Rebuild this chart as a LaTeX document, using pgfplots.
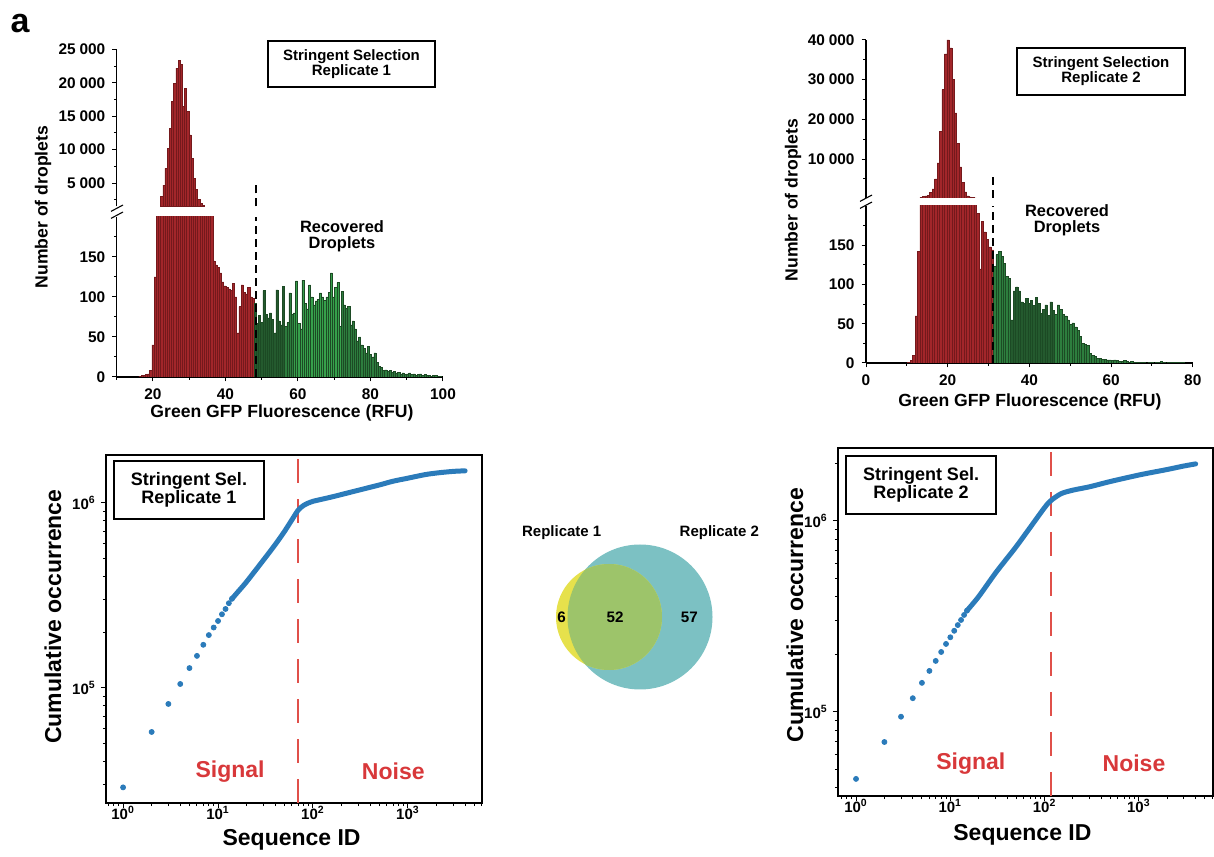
\documentclass[border=0pt]{standalone}
\usepackage{fontspec}
\setmainfont{Liberation Sans}
\usepackage{pgfplots}
\usepackage{pgfplotstable}
\pgfplotsset{compat=1.18}

\definecolor{redF}{HTML}{A2262A}
\definecolor{redD}{HTML}{74191C}
\definecolor{grnF}{HTML}{2D7D3E}
\definecolor{grnDk}{HTML}{245A2E}
\definecolor{grnBr}{HTML}{36A04B}
\definecolor{grnE}{HTML}{1C4A24}
\definecolor{cblue}{HTML}{2B7BBA}
\definecolor{cred}{HTML}{E0504A}
\definecolor{sred}{HTML}{D8383A}
\definecolor{vyel}{HTML}{E6E14C}
\definecolor{vteal}{HTML}{7CC1C3}
\definecolor{vgrn}{HTML}{9DC46A}

\newcommand{\fs}[1]{\fontsize{#1}{#1}\selectfont\bfseries}
\newcommand{\ks}{\hspace{0.25em}}
\newcommand{\tp}[1]{10\textsuperscript{#1}}

\pgfplotstableread{
x y
16.4 1
17.0 2
17.6 2
18.2 3
18.8 4
19.4 8
20.0 40
20.6 125
21.2 600
21.8 1300
22.4 2950
23.0 4700
23.6 7200
24.2 10200
24.8 13200
25.4 17200
26.0 19900
26.6 22200
27.2 23400
27.8 22800
28.4 16500
29.0 19200
29.6 15700
30.2 12200
30.8 8700
31.4 5700
32.0 4000
32.6 2600
33.2 1900
33.8 1600
34.4 1000
35.0 600
35.6 350
36.2 220
36.8 145
37.4 140
38.0 137
38.6 130
39.2 119
39.8 114
40.4 112
41.0 110
41.6 108
42.2 117
42.8 100
43.4 55
44.0 88
44.6 115
45.2 106
45.8 104
46.4 112
47.0 100
47.6 98
}\rAred

\pgfplotstableread{
x y
48.2 92
48.8 67
49.4 77
50.0 68
50.6 108
51.2 78
51.8 74
52.4 80
53.0 72
53.6 55
54.2 109
54.8 70
55.4 65
56.0 113
56.6 63
57.2 68
57.8 105
58.4 78
59.0 80
59.6 120
60.2 67
60.8 60
61.4 121
62.0 92
62.6 85
63.2 115
63.8 100
64.4 90
65.0 95
65.6 97
66.2 105
66.8 100
67.4 96
68.0 100
68.6 106
69.2 130
69.8 100
70.4 112
71.0 118
71.6 63
72.2 107
72.8 90
73.4 86
74.0 88
74.6 65
75.2 70
75.8 60
76.4 45
77.0 50
77.6 40
78.2 36
78.8 30
79.4 38
80.0 28
80.6 25
81.2 30
81.8 18
82.4 13
83.0 12
83.6 8
84.2 9
84.8 7
85.4 8
86.0 6
86.6 7
87.2 5
87.8 6
88.4 4
89.0 5
89.6 3
90.2 4
90.8 5
91.4 3
92.0 4
92.6 2
93.2 3
93.8 4
94.4 2
95.0 3
95.6 2
96.2 2
96.8 1
97.4 2
98.0 2
98.6 1
99.2 1
}\rAgreen

\pgfplotstableread{
x y
10.5 1
11.1 3
11.7 10
12.3 60
12.9 142
13.5 300
14.1 500
14.7 700
15.3 900
15.9 1500
16.5 2500
17.1 5000
17.7 9000
18.3 17000
18.9 27500
19.5 36500
20.1 40000
20.7 38000
21.3 30000
21.9 21600
22.5 14000
23.1 8000
23.7 4200
24.3 1700
24.9 700
25.5 450
26.1 300
26.7 230
27.3 191
27.9 120
28.5 180
29.1 167
29.7 157
30.3 148
30.9 144
}\rBred

\pgfplotstableread{
x y
31.5 123
32.1 138
32.7 142
33.3 136
33.9 127
34.5 110
35.1 108
35.7 55
36.3 92
36.9 97
37.5 92
38.1 78
38.7 76
39.3 82
39.9 76
40.5 80
41.1 73
41.7 84
42.3 76
42.9 63
43.5 68
44.1 74
44.7 61
45.3 78
45.9 67
46.5 62
47.1 74
47.7 68
48.3 62
48.9 60
49.5 55
50.1 49
50.7 51
51.3 46
51.9 42
52.5 34
53.1 25
53.7 24
54.3 22
54.9 12
55.5 10
56.1 8
56.7 6
57.3 6
57.9 5
58.5 5
59.1 4
59.7 4
60.3 3
60.9 4
61.5 3
62.1 2
62.7 2
63.3 3
63.9 2
64.5 1
65.1 2
65.7 1
66.3 1
66.9 1
67.5 1
68.1 1
69.3 1
69.9 1
71.1 1
71.7 1
72.3 2
72.9 1
74.1 1
74.7 1
75.3 1
75.9 1
76.5 1
77.1 1
77.7 1
}\rBgreen

\pgfplotstableread{
x y
1 29000
2 57800
3 81900
4 105000
5 128000
6 149000
7 171000
8 193000
9 212000
10 230000
11 250000
12 267000
13 287000
14 303000
}\cumA

\pgfplotstableread{
x y
14 303000
17 340000
20 375000
30 490000
40 595000
50 700000
60 810000
70 915000
80 970000
90 1000000
100 1020000
150 1070000
200 1110000
300 1170000
500 1250000
700 1310000
1000 1360000
1500 1420000
2000 1450000
3000 1480000
4000 1490000
}\cumAline

\pgfplotstableread{
x y
1 44600
2 69600
3 94400
4 118000
5 142000
6 164000
7 185000
8 206000
9 227000
10 246000
11 266000
12 285000
13 303000
14 322000
15 339000
}\cumB

\pgfplotstableread{
x y
15 339000
20 402000
30 532000
40 638000
50 734000
70 922000
100 1175000
117 1280000
150 1390000
200 1450000
300 1510000
500 1610000
1000 1740000
1500 1810000
2000 1860000
3000 1940000
4000 1990000
}\cumBline

\pgfplotsset{
  histbase/.style={scale only axis, anchor=south west, tick align=outside,
    major tick length=2.2pt, minor tick length=1.4pt,
    tick style={black, line width=0.5pt},
    axis line style={black, line width=0.55pt},
    ticklabel style={font=\fs{7.7}},
    scaled y ticks=false, scaled x ticks=false,
    enlargelimits=false, clip=true},
  hbar/.style={ybar, bar width=0.6, bar shift=0pt, line width=0.25pt},
  cumbase/.style={scale only axis, anchor=south west,
    tick align=outside, xtick pos=bottom, ytick pos=left,
    axis line style={line width=0.8pt},
    major tick length=2.6pt, minor tick length=1.6pt,
    tick style={black, line width=0.5pt},
    ticklabel style={font=\fs{7.5}},
    xticklabel style={yshift=4.5pt},
    yticklabel style={xshift=1pt},
    xtick={1,10,100,1000}, xticklabels={\tp{0},\tp{1},\tp{2},\tp{3}},
    minor xtick={0.7,0.8,0.9,2,3,4,5,6,7,8,9,20,30,40,50,60,70,80,90,200,300,400,500,600,700,800,900,2000,3000,4000,5000,6000},
    ytick={100000,1000000}, yticklabels={\tp{5},\tp{6}},
    minor ytick={30000,40000,50000,60000,70000,80000,90000,200000,300000,400000,500000,600000,700000,800000,900000,2000000},
    clip=true},
}

\begin{document}
\begin{tikzpicture}
\path[use as bounding box] (0,0) rectangle (607pt,428pt);

\node[font=\fs{17}] at (10pt,416pt) {a};

% ---------- Replicate 1 histogram, lower part ----------
\begin{axis}[histbase, at={(58.375pt,239.5pt)}, width=163.125pt, height=80pt,
  xmin=10, xmax=100, ymin=0, ymax=200,
  axis x line*=bottom, axis y line*=left,
  xtick={20,40,60,80,100}, xticklabels={20,40,60,80,100},
  minor xtick={10,30,50,70,90},
  ytick={0,50,100,150}, yticklabels={0,50,100,150},
  minor ytick={25,75,125,175}]
\addplot[hbar, fill=redF, draw=redD] table {\rAred};
\addplot[hbar, fill=grnDk, draw=grnE, restrict x to domain=47:56.3] table {\rAgreen};
\addplot[hbar, fill=grnF, draw=grnE, restrict x to domain=56.5:58.5] table {\rAgreen};
\addplot[hbar, fill=grnBr, draw=grnE, restrict x to domain=58.9:71.9] table {\rAgreen};
\addplot[hbar, fill=grnF, draw=grnE, restrict x to domain=72:100] table {\rAgreen};
\addplot[black, line width=1pt, dash pattern=on 4pt off 2.5pt] coordinates {(48.3,0) (48.3,200)};
\end{axis}

% ---------- Replicate 1 histogram, upper part ----------
\begin{axis}[histbase, at={(58.375pt,324.8pt)}, width=163.125pt, height=78.5pt,
  xmin=10, xmax=100, ymin=1500, ymax=25000,
  axis x line=none, axis y line*=left,
  ytick={5000,10000,15000,20000,25000},
  yticklabels={5\ks000,10\ks000,15\ks000,20\ks000,25\ks000},
  minor ytick={2500,7500,12500,17500,22500}]
\addplot[hbar, fill=redF, draw=redD, restrict y to domain=1500:100000] table {\rAred};
\addplot[black, line width=1pt, dash pattern=on 4pt off 2.5pt] coordinates {(48.3,1500) (48.3,4850)};
\end{axis}

\draw[line width=0.55pt] (55.5pt,322.3pt) -- (61.5pt,325.5pt);
\draw[line width=0.55pt] (55.5pt,318.8pt) -- (61.5pt,322pt);

\node[font=\fs{8.8}, rotate=90] at (21.5pt,324.5pt) {Number of droplets};
\node[font=\fs{8.8}] at (141pt,221.5pt) {Green GFP Fluorescence (RFU)};
\node[draw, line width=0.9pt, font=\fs{7.5}, align=center, minimum width=83.5pt, minimum height=23pt, inner sep=1pt] at (175.75pt,396pt) {Stringent Selection\\Replicate 1};
\node[font=\fs{8.2}, align=center] at (171pt,310pt) {Recovered\\Droplets};

% ---------- Replicate 2 histogram, lower part ----------
\begin{axis}[histbase, at={(433pt,246.5pt)}, width=163.4pt, height=78.5pt,
  xmin=0, xmax=80, ymin=0, ymax=200,
  axis x line*=bottom, axis y line*=left,
  xtick={0,20,40,60,80}, xticklabels={0,20,40,60,80},
  minor xtick={10,30,50,70},
  ytick={0,50,100,150}, yticklabels={0,50,100,150},
  minor ytick={25,75,125,175}]
\addplot[hbar, fill=redF, draw=redD] table {\rBred};
\addplot[hbar, fill=grnF, draw=grnE, restrict x to domain=31:35.5] table {\rBgreen};
\addplot[hbar, fill=grnDk, draw=grnE, restrict x to domain=35.6:46] table {\rBgreen};
\addplot[hbar, fill=grnF, draw=grnE, restrict x to domain=46.2:80] table {\rBgreen};
\addplot[black, line width=1pt, dash pattern=on 4pt off 2.5pt] coordinates {(31,0) (31,200)};
\end{axis}

% ---------- Replicate 2 histogram, upper part ----------
\begin{axis}[histbase, at={(433pt,329.05pt)}, width=163.4pt, height=78.95pt,
  xmin=0, xmax=80, ymin=200, ymax=40000,
  axis x line=none, axis y line*=left,
  ytick={10000,20000,30000,40000},
  yticklabels={10\ks000,20\ks000,30\ks000,40\ks000},
  minor ytick={5000,15000,25000,35000}]
\addplot[hbar, fill=redF, draw=redD, restrict y to domain=200:100000] table {\rBred};
\addplot[black, line width=1pt, dash pattern=on 4pt off 2.5pt] coordinates {(31,200) (31,6470)};
\end{axis}

\draw[line width=0.55pt] (430pt,327.3pt) -- (436pt,330.5pt);
\draw[line width=0.55pt] (430pt,323.8pt) -- (436pt,327pt);

\node[font=\fs{8.8}, rotate=90] at (396.5pt,328pt) {Number of droplets};
\node[font=\fs{8.8}] at (515pt,227pt) {Green GFP Fluorescence (RFU)};
\node[draw, line width=0.9pt, font=\fs{7.5}, align=center, minimum width=84pt, minimum height=23.5pt, inner sep=1pt] at (550.5pt,392.25pt) {Stringent Selection\\Replicate 2};
\node[font=\fs{8.2}, align=center] at (533.5pt,318pt) {Recovered\\Droplets};

% ---------- Cumulative, replicate 1 ----------
\begin{axis}[xmode=log, ymode=log, cumbase, at={(53pt,26.5pt)}, width=188pt, height=174pt,
  xmin=0.661, xmax=6026, ymin=23880, ymax=1815000]
\addplot[cred, line width=0.9pt, dash pattern=on 12pt off 8pt] coordinates {(69,23880) (69,1815000)};
\addplot[cblue, line width=2.5pt, smooth, line cap=round] table {\cumAline};
\addplot[only marks, mark=*, mark size=1.25pt, color=cblue] table {\cumA};
\node[font=\fs{11.5}, text=sred] at (axis cs:13.4,35300) {Signal};
\node[font=\fs{11.5}, text=sred] at (axis cs:701,35300) {Noise};
\end{axis}
\node[font=\fs{11.5}, rotate=90] at (26.5pt,119.7pt) {Cumulative occurrence};
\node[font=\fs{11.5}] at (145.8pt,8pt) {Sequence ID};
\node[draw, line width=1pt, fill=white, font=\fs{9}, align=center, minimum width=75pt, minimum height=29pt, inner sep=1pt] at (94.5pt,183pt) {Stringent Sel.\\Replicate 1};

% ---------- Cumulative, replicate 2 ----------
\begin{axis}[xmode=log, ymode=log, cumbase, at={(419pt,30pt)}, width=187.5pt, height=174pt,
  xmin=0.644, xmax=6109, ymin=36300, ymax=2410000]
\addplot[cred, line width=0.9pt, dash pattern=on 12pt off 8pt] coordinates {(117,36300) (117,2410000)};
\addplot[cblue, line width=2.5pt, smooth, line cap=round] table {\cumBline};
\addplot[only marks, mark=*, mark size=1.25pt, color=cblue] table {\cumB};
\node[font=\fs{11.5}, text=sred] at (axis cs:16.5,53800) {Signal};
\node[font=\fs{11.5}, text=sred] at (axis cs:887,53800) {Noise};
\end{axis}
\node[font=\fs{11.5}, rotate=90] at (397.5pt,120.5pt) {Cumulative occurrence};
\node[font=\fs{11.5}] at (511.2pt,10.5pt) {Sequence ID};
\node[draw, line width=1pt, fill=white, font=\fs{9}, align=center, minimum width=75pt, minimum height=29pt, inner sep=1pt] at (460.5pt,185.5pt) {Stringent Sel.\\Replicate 2};

% ---------- Venn ----------
\begin{axis}[scale only axis, anchor=south west, at={(270pt,78pt)}, width=95pt, height=90pt,
  xmin=540, xmax=730, ymin=156, ymax=336, hide axis, clip=false]
\fill[vteal] (axis cs:640,239) circle [radius=72.5];
\fill[vyel] (axis cs:609,239) circle [radius=53];
\begin{scope}
\clip (axis cs:640,239) circle [radius=72.5];
\fill[vgrn] (axis cs:609,239) circle [radius=53];
\end{scope}
\node[font=\fs{7.6}] at (axis cs:561.7,239) {6};
\node[font=\fs{7.6}] at (axis cs:615,239) {52};
\node[font=\fs{7.6}] at (axis cs:689.3,239) {57};
\node[font=\fs{7.5}] at (axis cs:561.7,323) {Replicate 1};
\node[font=\fs{7.5}] at (axis cs:719.3,323) {Replicate 2};
\end{axis}

\end{tikzpicture}
\end{document}
